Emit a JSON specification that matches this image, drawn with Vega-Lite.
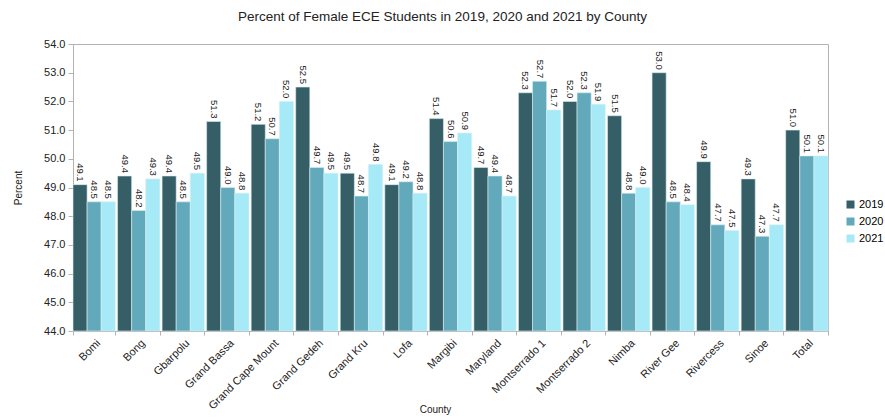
{
  "$schema": "https://vega.github.io/schema/vega-lite/v6.json",
  "width": 755,
  "height": 287,
  "autosize": {"type": "none"},
  "padding": {"left": 73, "top": 44, "right": 57, "bottom": 87},
  "background": "white",
  "config": {
    "font": "Liberation Sans",
    "view": {"stroke": "#b3b3b3", "strokeWidth": 1},
    "axis": {"domainColor": "#b3b3b3", "tickColor": "#b3b3b3", "labelColor": "#222", "titleColor": "#222", "labelFontSize": 11, "titleFontSize": 11, "titleFontWeight": "normal", "grid": false}
  },
  "title": {"text": "Percent of Female ECE Students in 2019, 2020 and 2021 by County", "fontSize": 13.5, "fontWeight": "normal", "color": "#222", "offset": 15, "dx": -8},
  "data": {"values": [
    {"County": "Bomi", "Year": "2019", "Percent": 49.1},
    {"County": "Bomi", "Year": "2020", "Percent": 48.5},
    {"County": "Bomi", "Year": "2021", "Percent": 48.5},
    {"County": "Bong", "Year": "2019", "Percent": 49.4},
    {"County": "Bong", "Year": "2020", "Percent": 48.2},
    {"County": "Bong", "Year": "2021", "Percent": 49.3},
    {"County": "Gbarpolu", "Year": "2019", "Percent": 49.4},
    {"County": "Gbarpolu", "Year": "2020", "Percent": 48.5},
    {"County": "Gbarpolu", "Year": "2021", "Percent": 49.5},
    {"County": "Grand Bassa", "Year": "2019", "Percent": 51.3},
    {"County": "Grand Bassa", "Year": "2020", "Percent": 49.0},
    {"County": "Grand Bassa", "Year": "2021", "Percent": 48.8},
    {"County": "Grand Cape Mount", "Year": "2019", "Percent": 51.2},
    {"County": "Grand Cape Mount", "Year": "2020", "Percent": 50.7},
    {"County": "Grand Cape Mount", "Year": "2021", "Percent": 52.0},
    {"County": "Grand Gedeh", "Year": "2019", "Percent": 52.5},
    {"County": "Grand Gedeh", "Year": "2020", "Percent": 49.7},
    {"County": "Grand Gedeh", "Year": "2021", "Percent": 49.5},
    {"County": "Grand Kru", "Year": "2019", "Percent": 49.5},
    {"County": "Grand Kru", "Year": "2020", "Percent": 48.7},
    {"County": "Grand Kru", "Year": "2021", "Percent": 49.8},
    {"County": "Lofa", "Year": "2019", "Percent": 49.1},
    {"County": "Lofa", "Year": "2020", "Percent": 49.2},
    {"County": "Lofa", "Year": "2021", "Percent": 48.8},
    {"County": "Margibi", "Year": "2019", "Percent": 51.4},
    {"County": "Margibi", "Year": "2020", "Percent": 50.6},
    {"County": "Margibi", "Year": "2021", "Percent": 50.9},
    {"County": "Maryland", "Year": "2019", "Percent": 49.7},
    {"County": "Maryland", "Year": "2020", "Percent": 49.4},
    {"County": "Maryland", "Year": "2021", "Percent": 48.7},
    {"County": "Montserrado 1", "Year": "2019", "Percent": 52.3},
    {"County": "Montserrado 1", "Year": "2020", "Percent": 52.7},
    {"County": "Montserrado 1", "Year": "2021", "Percent": 51.7},
    {"County": "Montserrado 2", "Year": "2019", "Percent": 52.0},
    {"County": "Montserrado 2", "Year": "2020", "Percent": 52.3},
    {"County": "Montserrado 2", "Year": "2021", "Percent": 51.9},
    {"County": "Nimba", "Year": "2019", "Percent": 51.5},
    {"County": "Nimba", "Year": "2020", "Percent": 48.8},
    {"County": "Nimba", "Year": "2021", "Percent": 49.0},
    {"County": "River Gee", "Year": "2019", "Percent": 53.0},
    {"County": "River Gee", "Year": "2020", "Percent": 48.5},
    {"County": "River Gee", "Year": "2021", "Percent": 48.4},
    {"County": "Rivercess", "Year": "2019", "Percent": 49.9},
    {"County": "Rivercess", "Year": "2020", "Percent": 47.7},
    {"County": "Rivercess", "Year": "2021", "Percent": 47.5},
    {"County": "Sinoe", "Year": "2019", "Percent": 49.3},
    {"County": "Sinoe", "Year": "2020", "Percent": 47.3},
    {"County": "Sinoe", "Year": "2021", "Percent": 47.7},
    {"County": "Total", "Year": "2019", "Percent": 51.0},
    {"County": "Total", "Year": "2020", "Percent": 50.1},
    {"County": "Total", "Year": "2021", "Percent": 50.1}
  ]},
  "encoding": {
    "x": {"field": "County", "type": "nominal", "sort": null,
      "scale": {"paddingInner": 0.05, "paddingOuter": 0},
      "axis": {"labelAngle": -45, "labelAlign": "right", "labelBaseline": "top", "tickBand": "extent", "tickSize": 4, "labelPadding": 2, "title": "County", "titleX": 362, "titleY": 73, "titleFontSize": 10}},
    "xOffset": {"field": "Year", "type": "nominal"},
    "y": {"field": "Percent", "type": "quantitative",
      "scale": {"domain": [44, 54], "zero": false, "nice": false},
      "axis": {"values": [44, 45, 46, 47, 48, 49, 50, 51, 52, 53, 54], "format": ".1f", "tickSize": 5, "labelPadding": 3, "title": "Percent", "titlePadding": 20, "titleFontSize": 10}}
  },
  "layer": [
    {
      "mark": {"type": "bar", "stroke": "#d8eef2", "strokeWidth": 0.6},
      "encoding": {
        "y2": {"datum": 44},
        "color": {"field": "Year", "type": "nominal",
          "scale": {"domain": ["2019", "2020", "2021"], "range": ["#355e66", "#62a9bc", "#a6e9f7"]},
          "legend": {"title": null, "orient": "none", "legendX": 772, "legendY": 155, "symbolType": "square", "symbolSize": 64, "symbolStrokeWidth": 0, "labelFontSize": 11, "rowPadding": 5, "labelOffset": 3}}
      }
    },
    {
      "mark": {"type": "text", "angle": 90, "align": "right", "baseline": "middle", "dx": -3, "fontSize": 9.5, "color": "#222"},
      "encoding": {
        "text": {"field": "Percent", "type": "quantitative", "format": ".1f"}
      }
    }
  ]
}
